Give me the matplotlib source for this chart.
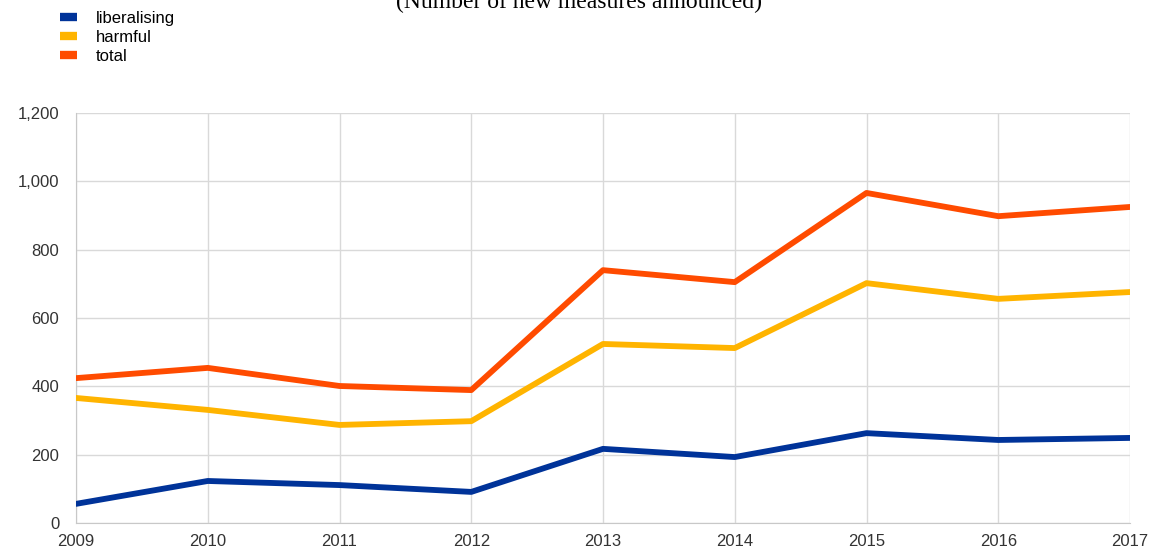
import matplotlib.pyplot as plt
from matplotlib.lines import Line2D

years = [2009, 2010, 2011, 2012, 2013, 2014, 2015, 2016, 2017]
liberalising = [56, 123, 111, 91, 217, 193, 263, 243, 249]
harmful = [366, 331, 287, 298, 524, 512, 702, 656, 676]
total = [424, 454, 401, 389, 740, 705, 966, 898, 925]

series_names = ['liberalising', 'harmful', 'total']
series_colors = ['#003399', '#FFB400', '#FF4B00']

plt.rcParams['font.family'] = ['Liberation Sans', 'DejaVu Sans']

fig = plt.figure(figsize=[11.52, 5.54], dpi=100)
ax = fig.add_axes([76/1152, 1-523/554, (1130-76)/1152, (523-113)/554])

for vals, name, col in zip([liberalising, harmful, total], series_names, series_colors):
    ax.plot(years, vals, color=col, linewidth=4.2, label=name,
            solid_joinstyle='round', solid_capstyle='round', zorder=3)

ax.set_xlim(2009, 2017)
ax.set_ylim(0, 1200)
ax.set_xticks(years)
ax.set_yticks(range(0, 1201, 200))
ax.set_yticklabels(['{:,}'.format(v) for v in range(0, 1201, 200)])
ax.grid(True, color='#d9d9d9', linewidth=1)
for s in ['top', 'right']:
    ax.spines[s].set_visible(False)
for s in ['left', 'bottom']:
    ax.spines[s].set_color('#c8c8c8')
ax.tick_params(length=0, labelsize=12, colors='#333333')
ax.tick_params(axis='y', pad=12)
ax.tick_params(axis='x', pad=8)

# title sits partly above the figure edge, as in the source image
fig.text(0.503, 0.995, '(Number of new measures announced)', ha='center', va='center',
         fontsize=17, family=['Liberation Serif', 'DejaVu Serif'])

handles = [Line2D([0], [0], color=c, linewidth=6, solid_capstyle='butt') for c in series_colors]
fig.legend(handles, series_names, loc='upper left', bbox_to_anchor=(0.046, 0.993),
           frameon=False, fontsize=12, handlelength=1.05, handletextpad=1.1,
           labelspacing=0.25, borderaxespad=0)

fig.savefig('out.png')
